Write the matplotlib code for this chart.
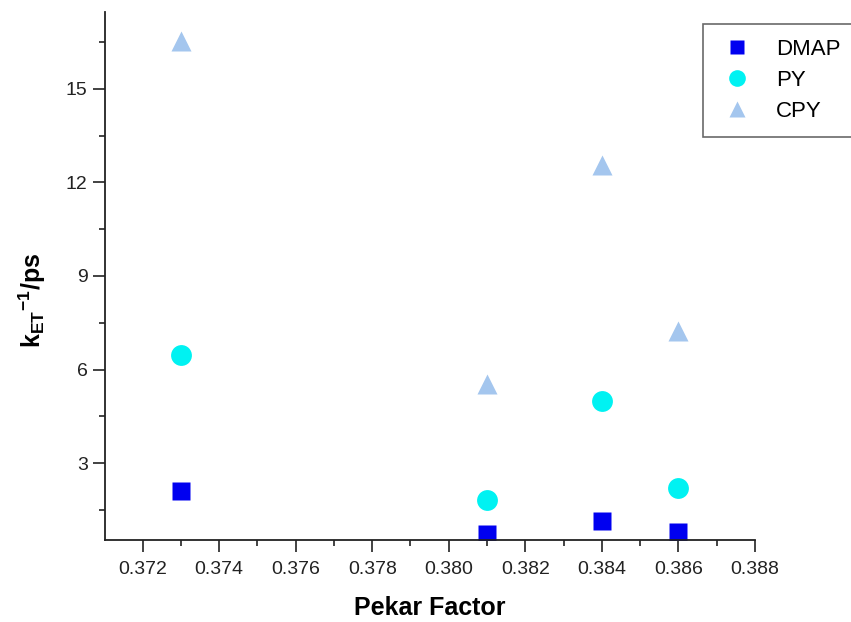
import matplotlib
matplotlib.use('Agg')
import matplotlib.pyplot as plt
from matplotlib.ticker import MultipleLocator, FormatStrFormatter

plt.rcParams['font.family'] = ['Liberation Sans', 'DejaVu Sans']
plt.rcParams['mathtext.fontset'] = 'custom'
plt.rcParams['mathtext.rm'] = 'Liberation Sans:bold'
plt.rcParams['mathtext.default'] = 'rm'

# Pekar factor of each solvent
pekar = [0.373, 0.381, 0.384, 0.386]

# inverse ET rate constants (ps)
dmap = [2.1, 0.72, 1.15, 0.8]
py = [6.47, 1.8, 5.0, 2.2]
cpy = [16.55, 5.55, 12.55, 7.22]

fig = plt.figure(figsize=(8.51, 6.22), dpi=100)
ax = fig.add_axes([0.1234, 0.1318, 0.7638, 0.849])

ax.plot(pekar, dmap, 's', color='#0000f0', ms=13, mec='none', label='DMAP')
ax.plot(pekar, py, 'o', color='#00f2f2', ms=15, mec='none', label='PY')
ax.plot(pekar, cpy, '^', color='#a4c6ee', ms=15, mec='none', label='CPY')

ax.set_xlim(0.37102, 0.388)
ax.set_ylim(0.53, 17.47)

ax.xaxis.set_major_locator(MultipleLocator(0.002))
ax.xaxis.set_minor_locator(MultipleLocator(0.001))
ax.xaxis.set_major_formatter(FormatStrFormatter('%.3f'))
ax.yaxis.set_major_locator(MultipleLocator(3))
ax.yaxis.set_minor_locator(MultipleLocator(1.5))

for s in ['top', 'right']:
    ax.spines[s].set_visible(False)
for s in ['left', 'bottom']:
    ax.spines[s].set_linewidth(1.3)
    ax.spines[s].set_color('#222222')

ax.tick_params(which='major', direction='out', length=8.5, width=1.2,
               labelsize=14, colors='#222222', pad=4)
ax.tick_params(axis='x', which='major', pad=6.5)
ax.tick_params(which='minor', direction='out', length=4.3, width=1.2,
               colors='#222222')

ax.set_xlabel('Pekar Factor', fontsize=18, fontweight='bold', va='center')
ax.xaxis.set_label_coords(0.5, -0.129)
ax.set_ylabel(r'k$_{ET}$$^{-1}$/ps', fontsize=18, fontweight='bold',
              va='center')
ax.yaxis.set_label_coords(-0.112, 0.453)

leg = fig.legend(loc='upper left', bbox_to_anchor=(703 / 851, 1 - 24 / 622),
                 borderaxespad=0, fontsize=16, frameon=True, fancybox=False,
                 markerscale=0.8, handletextpad=0.9, borderpad=0.68,
                 labelspacing=0.45, handlelength=1.71)
leg.get_frame().set_edgecolor('#444444')
leg.get_frame().set_linewidth(1.2)

fig.savefig('out.png', dpi=100)
